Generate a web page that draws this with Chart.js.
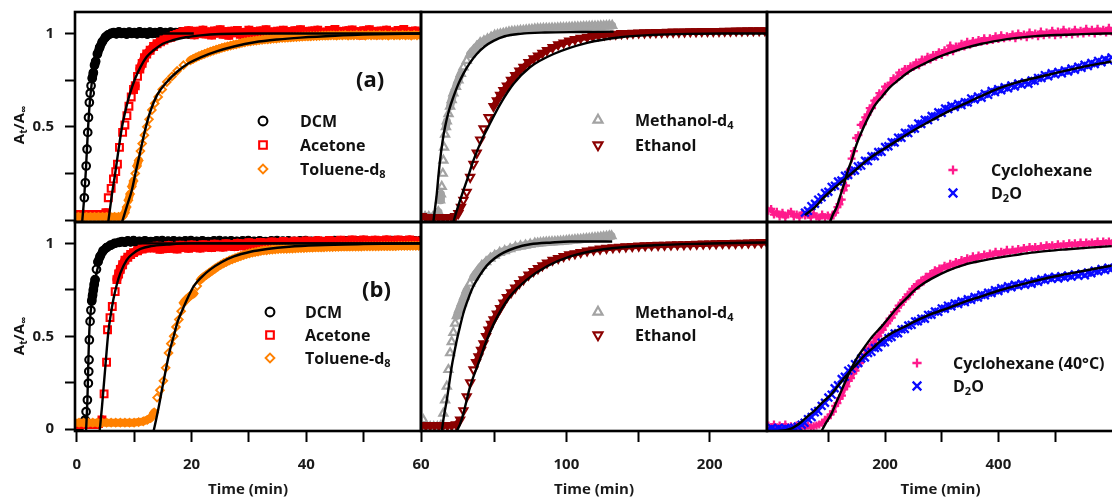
<!DOCTYPE html>
<html>
<head>
<meta charset="utf-8">
<script src="https://cdn.jsdelivr.net/npm/chart.js"></script>
<style>
  html, body { margin: 0; padding: 0; background: #fff; width: 1112px; height: 500px; overflow: hidden; }
  canvas { position: absolute; left: 0; top: 0; }
  .lbl { position: absolute; font-family: "Open Sans", "Noto Sans", sans-serif; font-weight: 700; font-size: 16px; line-height: 20px; color: #111; white-space: nowrap; transform: translateY(-50%); }
  .lbl sub { font-size: 11px; vertical-align: -3px; line-height: 0; }
  .tag { font-size: 22px; line-height: 26px; }
  .ytitle { position: absolute; font-family: "Open Sans", "Noto Sans", sans-serif; font-weight: 700; font-size: 15px; color: #111; white-space: nowrap; transform: translate(-50%, -50%) rotate(-90deg); }
  .ytitle sub { font-size: 10px; vertical-align: -3px; line-height: 0; }
</style>
</head>
<body>
<canvas id="cTL" width="1130" height="500"></canvas>
<canvas id="cBL" width="1130" height="500"></canvas>
<canvas id="cTM" width="1130" height="500"></canvas>
<canvas id="cBM" width="1130" height="500"></canvas>
<canvas id="cTR" width="1130" height="500"></canvas>
<canvas id="cBR" width="1130" height="500"></canvas>

<div class="ytitle" style="left:18px; top:125px">A<sub>t</sub>/A<sub>∞</sub></div>
<div class="ytitle" style="left:18px; top:336px">A<sub>t</sub>/A<sub>∞</sub></div>

<div class="lbl tag" style="left:356px; top:78px">(a)</div>
<div class="lbl tag" style="left:362px; top:288px">(b)</div>

<div class="lbl" style="left:300px; top:121px">DCM</div>
<div class="lbl" style="left:300px; top:145px">Acetone</div>
<div class="lbl" style="left:300px; top:169px">Toluene-d<sub>8</sub></div>
<div class="lbl" style="left:305px; top:312px">DCM</div>
<div class="lbl" style="left:305px; top:335px">Acetone</div>
<div class="lbl" style="left:305px; top:358px">Toluene-d<sub>8</sub></div>

<div class="lbl" style="left:635px; top:120px">Methanol-d<sub>4</sub></div>
<div class="lbl" style="left:635px; top:145px">Ethanol</div>
<div class="lbl" style="left:635px; top:312px">Methanol-d<sub>4</sub></div>
<div class="lbl" style="left:635px; top:335px">Ethanol</div>

<div class="lbl" style="left:991px; top:170px">Cyclohexane</div>
<div class="lbl" style="left:991px; top:193px">D<sub>2</sub>O</div>
<div class="lbl" style="left:953px; top:363px">Cyclohexane (40°C)</div>
<div class="lbl" style="left:953px; top:386px">D<sub>2</sub>O</div>

<script>
const W = 1130, H = 500;

// ---- tick positions / labels ----
const yTickVals = [0, 0.25, 0.5, 0.75, 1];
const yTextTop = ["", "", "0.5", "", "1"];
const yTextBottom = ["0", "", "0.5", "", "1"];
const xTicksL = [0, 10, 20, 30, 40, 50, 60];
const xTextL = ["0", "", "20", "", "40", "", "60"];
const xTicksM = [50, 100, 150, 200];
const xTextM = ["", "100", "", "200"];
const xTicksR = [100, 200, 300, 400, 500];
const xTextR = ["", "200", "", "400", ""];

// ---- (a) fast solvents, [time (min), At/Ainf] ----
const dcmA = [[0.2,0.02],[0.6,0.02],[1.0,0.02],[1.16,0.03],[1.33,0.12],[1.5,0.2],[1.65,0.29],[1.8,0.38],[1.92,0.47],[2.05,0.55],[2.2,0.63],[2.35,0.68],[2.5,0.72],[2.7,0.76],[2.9,0.79],[3.1,0.83],[3.3,0.85],[3.6,0.89],[4.0,0.925],[4.45,0.955],[5.0,0.98],[5.5,0.993],[6.0,1.0],[6.45,1.005],[6.9,0.998],[7.35,1.008],[7.8,1.0],[8.25,1.004],[8.7,0.997],[9.15,1.007],[9.6,1.0],[10.05,1.005],[10.5,0.998],[10.95,1.008],[11.4,1.0],[11.85,1.004],[12.3,0.997],[12.75,1.007],[13.2,1.0],[13.65,1.005],[14.1,0.998],[14.55,1.008],[15.0,1.0],[15.45,1.004],[15.9,0.997],[16.35,1.007],[16.8,1.0],[17.25,1.005],[17.7,0.998],[18.15,1.008],[18.6,1.0],[19.05,1.004],[19.5,0.997],[19.95,1.007],[20.4,1.0]];
const dcmFitA = [[0.95,-0.01],[1.3,0.12],[1.6,0.27],[1.9,0.45],[2.2,0.6],[2.6,0.73],[3.0,0.82],[3.5,0.89],[4.0,0.935],[5.0,0.975],[6.0,0.99],[8.0,1.0],[20.4,1.0]];
const acetoneA = [[-0.4,0.03],[0.4,0.03],[1.2,0.03],[2.0,0.03],[2.8,0.03],[3.6,0.03],[4.4,0.03],[5.1,0.04],[5.5,0.12],[6.0,0.17],[6.4,0.22],[6.8,0.26],[7.1,0.3],[7.45,0.39],[8.0,0.47],[8.4,0.51],[8.75,0.56],[9.1,0.61],[9.5,0.66],[9.9,0.7],[10.2,0.72],[10.6,0.77],[11.0,0.81],[11.4,0.84],[11.8,0.87],[12.2,0.89],[12.8,0.91],[13.4,0.93],[14.0,0.945],[14.6,0.955],[15.2,0.965],[15.8,0.975],[16.4,0.98],[17.0,0.99],[17.5,0.995],[18.0,1.0],[18.5,1.01],[19.0,0.998],[19.5,1.015],[20.0,1.003],[20.5,0.993],[21.0,1.012],[21.5,1.0],[22.0,1.018],[22.5,0.997],[23.0,1.008],[23.5,0.992],[24.0,1.014],[24.5,1.002],[25.0,1.02],[25.5,0.996],[26.0,1.01],[26.5,0.99],[27.0,1.012],[27.5,1.004],[28.0,1.016],[28.5,0.995],[29.0,1.006],[29.5,0.993],[30.0,1.018],[30.5,1.0],[31.0,1.01],[31.5,0.994],[32.0,1.013],[32.5,1.003],[33.0,1.02],[33.5,0.997],[34.0,1.008],[34.5,0.991],[35.0,1.012],[35.5,1.002],[36.0,1.017],[36.5,0.996],[37.0,1.009],[37.5,0.994],[38.0,1.015],[38.5,1.001],[39.0,1.02],[39.5,0.998],[40.0,1.01],[40.5,0.992],[41.0,1.013],[41.5,1.004],[42.0,1.018],[42.5,0.997],[43.0,1.007],[43.5,0.993],[44.0,1.016],[44.5,1.002],[45.0,1.021],[45.5,0.998],[46.0,1.011],[46.5,0.994],[47.0,1.014],[47.5,1.003],[48.0,1.019],[48.5,0.996],[49.0,1.009],[49.5,0.992],[50.0,1.015],[50.5,1.001],[51.0,1.02],[51.5,0.997],[52.0,1.01],[52.5,0.993],[53.0,1.013],[53.5,1.004],[54.0,1.018],[54.5,0.996],[55.0,1.008],[55.5,0.994],[56.0,1.016],[56.5,1.002],[57.0,1.021],[57.5,0.998],[58.0,1.011],[58.5,0.995],[59.0,1.014],[59.5,1.003]];
const acetoneFitA = [[5.5,-0.01],[6.1,0.13],[6.7,0.25],[7.3,0.38],[7.9,0.5],[8.6,0.6],[9.3,0.68],[10.2,0.76],[11.1,0.82],[12.2,0.875],[13.4,0.91],[15.0,0.945],[16.9,0.965],[19.0,0.98],[21.6,0.99],[25,0.997],[30,1.0],[60,1.0]];
const tolueneA = [[-0.4,0.018],[0.3,0.018],[1.0,0.018],[1.7,0.018],[2.4,0.018],[3.1,0.018],[3.8,0.018],[4.5,0.018],[5.2,0.018],[5.9,0.018],[6.6,0.018],[7.3,0.018],[8.0,0.02],[8.4,0.04],[8.7,0.07],[9.0,0.107],[9.3,0.14],[9.6,0.18],[9.9,0.21],[10.2,0.25],[10.5,0.29],[10.8,0.32],[11.1,0.37],[11.4,0.41],[11.8,0.455],[12.2,0.5],[12.6,0.54],[13.1,0.59],[13.6,0.625],[14.2,0.66],[14.9,0.7],[15.7,0.74],[16.6,0.77],[17.5,0.8],[18.6,0.83],[19.8,0.856],[20.3,0.864],[20.8,0.872],[21.3,0.879],[21.8,0.885],[22.3,0.891],[22.8,0.897],[23.3,0.903],[23.8,0.908],[24.3,0.913],[24.8,0.918],[25.3,0.923],[25.8,0.927],[26.3,0.931],[26.8,0.935],[27.3,0.939],[27.8,0.942],[28.3,0.946],[28.8,0.95],[29.3,0.953],[29.8,0.956],[30.3,0.958],[30.8,0.96],[31.3,0.962],[31.8,0.964],[32.3,0.966],[32.8,0.968],[33.3,0.969],[33.8,0.97],[34.3,0.972],[34.8,0.973],[35.3,0.975],[35.8,0.976],[36.3,0.977],[36.8,0.978],[37.3,0.979],[37.8,0.98],[38.3,0.981],[38.8,0.982],[39.3,0.983],[39.8,0.984],[40.3,0.984],[40.8,0.985],[41.3,0.986],[41.8,0.986],[42.3,0.987],[42.8,0.988],[43.3,0.988],[43.8,0.989],[44.3,0.99],[44.8,0.99],[45.3,0.988],[45.8,0.991],[46.3,0.99],[46.8,0.992],[47.3,0.989],[47.8,0.991],[48.3,0.99],[48.8,0.993],[49.3,0.99],[49.8,0.992],[50.3,0.989],[50.8,0.993],[51.3,0.99],[51.8,0.992],[52.3,0.99],[52.8,0.993],[53.3,0.99],[53.8,0.992],[54.3,0.989],[54.8,0.993],[55.3,0.99],[55.8,0.992],[56.3,0.99],[56.8,0.993],[57.3,0.99],[57.8,0.992],[58.3,0.989],[58.8,0.993],[59.3,0.99],[59.8,0.992]];
const tolueneFitA = [[7.9,-0.01],[8.8,0.08],[9.6,0.16],[10.3,0.26],[11.1,0.37],[11.9,0.48],[12.8,0.58],[14.0,0.67],[15.7,0.74],[17.5,0.795],[19.5,0.84],[21.6,0.872],[24.5,0.905],[27.4,0.93],[31,0.953],[35,0.968],[39,0.978],[45,0.988],[52,0.995],[60,1.0]];

// ---- (b) ----
const dcmB = [[-0.4,0.02],[0.2,0.02],[0.8,0.02],[1.2,0.03],[1.46,0.05],[1.63,0.094],[1.86,0.157],[2.03,0.247],[2.1,0.31],[2.15,0.373],[2.2,0.48],[2.33,0.58],[2.47,0.64],[2.62,0.69],[2.76,0.72],[2.9,0.75],[3.05,0.78],[3.2,0.805],[3.44,0.86],[3.7,0.9],[4.07,0.93],[4.6,0.96],[5.2,0.977],[5.9,0.99],[6.6,1.0],[7.4,1.005],[7.9,1.01],[8.4,1.006],[8.9,1.013],[9.4,1.008],[9.9,1.015],[10.4,1.005],[10.9,1.011],[11.4,1.008],[11.9,1.014],[12.4,1.006],[12.9,1.01],[13.4,1.007],[13.9,1.013],[14.4,1.009],[14.9,1.015],[15.4,1.005],[15.9,1.012],[16.4,1.008],[16.9,1.014],[17.4,1.006],[17.9,1.011],[18.4,1.007],[18.9,1.013],[19.4,1.009],[19.9,1.015],[20.4,1.005],[20.9,1.011],[21.4,1.008],[21.9,1.014],[22.4,1.006],[22.9,1.01],[23.4,1.007],[23.9,1.013],[24.4,1.009],[24.9,1.015],[25.4,1.005],[25.9,1.012],[26.4,1.008],[26.9,1.014],[27.4,1.006],[27.9,1.011],[28.4,1.007],[28.9,1.013],[29.4,1.009],[29.9,1.015],[30.4,1.005],[30.9,1.011],[31.4,1.008],[31.9,1.014],[32.4,1.006],[32.9,1.01],[33.4,1.007],[33.9,1.013],[34.4,1.009],[34.9,1.015],[35.4,1.005],[35.9,1.012],[36.4,1.008],[36.9,1.014],[37.4,1.006],[37.9,1.011],[38.4,1.007],[38.9,1.013],[39.4,1.009],[39.9,1.015],[40.4,1.005],[40.9,1.011],[41.4,1.008],[41.9,1.014],[42.4,1.006],[42.9,1.01],[43.4,1.007],[43.9,1.013],[44.4,1.009],[44.9,1.015],[45.4,1.005],[45.9,1.012],[46.4,1.008],[46.9,1.014],[47.4,1.006],[47.9,1.011],[48.4,1.007],[48.9,1.013],[49.4,1.009],[49.9,1.015],[50.4,1.005],[50.9,1.011],[51.4,1.008],[51.9,1.014],[52.4,1.006],[52.9,1.01],[53.4,1.007],[53.9,1.013],[54.4,1.009],[54.9,1.015],[55.4,1.005],[55.9,1.012],[56.4,1.008],[56.9,1.014],[57.4,1.006],[57.9,1.011],[58.4,1.007],[58.9,1.013],[59.4,1.009],[59.9,1.015]];
const dcmFitB = [[1.62,-0.01],[1.75,0.07],[1.86,0.157],[1.95,0.26],[2.03,0.37],[2.12,0.46],[2.2,0.53],[2.4,0.62],[2.6,0.68],[2.9,0.75],[3.2,0.8],[3.6,0.86],[4.07,0.91],[4.6,0.94],[5.2,0.96],[6.2,0.98],[7.6,0.99],[10,1.0],[60,1.0]];
const acetoneB = [[-0.4,0.025],[0.3,0.025],[1.0,0.025],[1.7,0.025],[2.4,0.025],[3.1,0.025],[3.8,0.03],[4.4,0.05],[4.77,0.19],[5.2,0.36],[5.37,0.535],[5.8,0.6],[6.2,0.66],[6.7,0.74],[7.0,0.805],[7.3,0.835],[7.6,0.86],[8.0,0.885],[8.4,0.91],[8.9,0.925],[9.4,0.94],[9.9,0.95],[10.6,0.96],[11.4,0.97],[12.2,0.975],[13.0,0.98],[13.5,0.975],[14.0,0.985],[14.5,0.968],[15.0,0.982],[15.5,0.972],[16.0,0.988],[16.5,0.974],[17.0,0.984],[17.5,0.97],[18.0,0.99],[18.5,0.977],[19.0,0.986],[19.5,0.973],[20.0,0.991],[20.5,0.979],[21.0,0.987],[21.5,0.975],[22.0,0.993],[22.5,0.98],[23.0,0.99],[23.5,0.978],[24.0,0.995],[24.5,0.982],[25.0,0.992],[25.5,0.98],[26.0,0.998],[26.5,0.985],[27.0,0.994],[27.5,0.983],[28.0,1.0],[28.5,0.987],[29.0,0.997],[29.5,0.985],[30.0,1.003],[30.5,0.99],[31.0,1.0],[31.5,0.988],[32.0,1.005],[32.5,0.992],[33.0,1.002],[33.5,0.99],[34.0,1.008],[34.5,0.994],[35.0,1.004],[35.5,0.992],[36.0,1.01],[36.5,0.996],[37.0,1.006],[37.5,0.994],[38.0,1.012],[38.5,0.998],[39.0,1.008],[39.5,0.996],[40.0,1.013],[40.5,0.999],[41.0,1.009],[41.5,0.997],[42.0,1.015],[42.5,1.0],[43.0,1.01],[43.5,0.998],[44.0,1.016],[44.5,1.002],[45.0,1.011],[45.5,0.999],[46.0,1.017],[46.5,1.003],[47.0,1.012],[47.5,1.0],[48.0,1.018],[48.5,1.004],[49.0,1.013],[49.5,1.001],[50.0,1.018],[50.5,1.004],[51.0,1.013],[51.5,1.0],[52.0,1.017],[52.5,1.005],[53.0,1.014],[53.5,1.001],[54.0,1.019],[54.5,1.004],[55.0,1.013],[55.5,1.0],[56.0,1.018],[56.5,1.005],[57.0,1.014],[57.5,1.001],[58.0,1.019],[58.5,1.004],[59.0,1.013],[59.5,1.002]];
const acetoneFitB = [[4.0,-0.01],[4.4,0.12],[4.7,0.23],[5.0,0.34],[5.5,0.52],[5.9,0.61],[6.4,0.7],[7.0,0.78],[7.6,0.84],[8.7,0.91],[9.8,0.945],[11.1,0.97],[13,0.985],[15.7,0.993],[20,1.0],[60,1.0]];
const tolueneB = [[-0.4,0.035],[0.4,0.035],[1.2,0.035],[2.0,0.035],[2.8,0.035],[3.6,0.035],[4.4,0.035],[5.2,0.035],[6.0,0.035],[6.8,0.035],[7.6,0.035],[8.4,0.035],[9.2,0.035],[10.0,0.035],[10.8,0.038],[11.6,0.042],[12.3,0.05],[12.9,0.06],[13.5,0.09],[14.0,0.17],[14.5,0.21],[15.1,0.26],[15.5,0.33],[16.0,0.41],[16.4,0.46],[16.9,0.5],[17.3,0.55],[17.8,0.59],[18.2,0.635],[18.6,0.68],[19.0,0.695],[19.5,0.71],[19.9,0.72],[20.4,0.73],[21.0,0.77],[21.6,0.805],[22.1,0.82],[22.6,0.83],[23.1,0.842],[23.6,0.853],[24.1,0.864],[24.6,0.875],[25.1,0.884],[25.6,0.893],[26.1,0.9],[26.6,0.908],[27.1,0.914],[27.6,0.92],[28.1,0.926],[28.6,0.932],[29.1,0.937],[29.6,0.942],[30.1,0.946],[30.6,0.95],[31.1,0.953],[31.6,0.956],[32.1,0.959],[32.6,0.962],[33.1,0.963],[33.6,0.965],[34.1,0.967],[34.6,0.968],[35.1,0.969],[35.6,0.97],[36.1,0.971],[36.6,0.971],[37.1,0.972],[37.6,0.972],[38.1,0.973],[38.6,0.974],[39.1,0.975],[39.6,0.975],[40.1,0.976],[40.6,0.977],[41.1,0.977],[41.6,0.978],[42.1,0.978],[42.6,0.978],[43.1,0.979],[43.6,0.98],[44.1,0.98],[44.6,0.98],[45.1,0.981],[45.6,0.981],[46.1,0.982],[46.6,0.982],[47.1,0.982],[47.6,0.982],[48.1,0.983],[48.6,0.983],[49.1,0.983],[49.6,0.983],[50.1,0.984],[50.6,0.984],[51.1,0.984],[51.6,0.984],[52.1,0.984],[52.6,0.984],[53.1,0.985],[53.6,0.985],[54.1,0.985],[54.6,0.985],[55.1,0.985],[55.6,0.985],[56.1,0.986],[56.6,0.986],[57.1,0.986],[57.6,0.986],[58.1,0.987],[58.6,0.987],[59.1,0.987],[59.6,0.987]];
const tolueneFitB = [[13.4,-0.01],[13.9,0.06],[14.3,0.12],[14.9,0.22],[15.4,0.3],[16.2,0.42],[16.9,0.5],[17.6,0.58],[18.4,0.64],[19.4,0.71],[20.4,0.77],[21.8,0.82],[23.3,0.86],[25.3,0.9],[27.4,0.93],[30.3,0.955],[33.2,0.97],[37,0.982],[41.9,0.99],[50,0.996],[60,1.0]];

// ---- alcohols ----
const methanolA = [[1.4,0.018],[4,0.018],[7,0.018],[9.5,0.025],[10.7,0.044],[11.9,0.107],[12.5,0.14],[13.1,0.18],[13.8,0.25],[14.2,0.32],[14.7,0.39],[15.4,0.46],[16.0,0.5],[16.6,0.53],[17.8,0.57],[18.9,0.61],[20.0,0.645],[21.2,0.68],[23.0,0.715],[24.7,0.75],[26.4,0.785],[28.2,0.82],[30.5,0.855],[32.9,0.89],[35.2,0.91],[37.5,0.93],[39.9,0.95],[42.5,0.96],[45,0.97],[47.5,0.98],[50,0.99],[52,0.993],[54,0.997],[56,1.0],[58,1.003],[60,1.007],[62,1.01],[64,1.011],[66,1.013],[68,1.015],[70,1.016],[72,1.018],[74,1.02],[76,1.021],[78,1.023],[80,1.025],[82,1.025],[84,1.026],[86,1.027],[88,1.027],[90,1.028],[92,1.028],[94,1.029],[96,1.03],[98,1.03],[100,1.031],[102,1.032],[104,1.033],[106,1.034],[108,1.034],[110,1.035],[112,1.036],[114,1.036],[116,1.037],[118,1.038],[120,1.038],[122,1.039],[124,1.04],[126,1.04],[128,1.041],[130,1.042],[132,1.042]];
const methanolFitA = [[7.2,-0.01],[8.5,0.07],[9.6,0.14],[10.8,0.24],[11.9,0.32],[13.6,0.42],[15.4,0.5],[18.2,0.59],[21.2,0.66],[24.7,0.73],[28.2,0.785],[32.5,0.84],[37.5,0.89],[43,0.93],[49.2,0.96],[57,0.985],[67.8,0.998],[85,1.005],[110,1.008],[133,1.01]];
const ethanolA = [[-1,0.02],[2,0.015],[5,0.015],[8,0.015],[11,0.015],[14,0.015],[17,0.015],[20,0.015],[22.5,0.02],[24.7,0.036],[26.5,0.07],[28.2,0.107],[30.5,0.15],[32.9,0.23],[35.2,0.3],[37.5,0.36],[39.9,0.43],[42.2,0.49],[45.7,0.55],[49.2,0.61],[51.5,0.64],[53.8,0.67],[56.1,0.695],[58.5,0.72],[61.4,0.75],[64.3,0.775],[67.2,0.8],[70.1,0.82],[73.6,0.845],[77.1,0.865],[80.2,0.88],[83.3,0.895],[86.5,0.91],[90.4,0.925],[94.3,0.94],[98.1,0.95],[102,0.96],[106,0.968],[110,0.975],[114.5,0.98],[118.5,0.985],[122.5,0.99],[126.5,0.993],[130.5,0.995],[134.5,0.997],[138.5,1.0],[142.5,1.0],[146.5,1.002],[150.5,1.003],[154.5,1.004],[158.5,1.005],[162.5,1.006],[166.5,1.006],[170.5,1.007],[174.5,1.008],[178.5,1.008],[182.5,1.009],[186.5,1.01],[190.5,1.01],[194.5,1.011],[198.5,1.011],[202.5,1.012],[206.5,1.012],[210.5,1.013],[214.5,1.013],[218.5,1.014],[222.5,1.014],[226.5,1.015],[230.5,1.015],[234.5,1.016],[238.5,1.016]];
const ethanolFitA = [[21.2,-0.01],[23.5,0.05],[25.9,0.107],[28.2,0.16],[30.5,0.21],[35.2,0.32],[41.0,0.43],[46.9,0.52],[53.8,0.62],[63.2,0.73],[74.8,0.82],[91.1,0.89],[114.5,0.95],[137.8,0.98],[160,0.992],[184,0.998],[210,1.0],[240,1.0]];
const methanolB = [[0.2,0.05],[2.5,0.012],[5,0.012],[7.5,0.012],[10,0.012],[12.5,0.02],[14.2,0.085],[15.4,0.157],[16.6,0.23],[17.7,0.32],[18.9,0.41],[20.0,0.47],[21.2,0.52],[22.4,0.57],[23.6,0.61],[25.3,0.645],[27.1,0.68],[28.8,0.715],[30.5,0.75],[32.8,0.785],[35.2,0.82],[38.1,0.85],[41,0.88],[44,0.9],[47,0.92],[50,0.935],[53.5,0.95],[57,0.96],[60.8,0.97],[64.5,0.98],[68,0.985],[71.5,0.99],[74.8,0.995],[78,1.0],[80,1.001],[82,1.003],[84,1.005],[86,1.006],[88,1.007],[90,1.008],[92,1.009],[94,1.01],[96,1.011],[98,1.012],[100,1.014],[102,1.016],[104,1.017],[106,1.019],[108,1.02],[110,1.021],[112,1.023],[114,1.025],[116,1.026],[118,1.028],[120,1.03],[122,1.031],[124,1.033],[126,1.035],[128,1.037],[130,1.039],[131.5,1.04]];
const methanolFitB = [[13.1,-0.01],[14.8,0.08],[16.6,0.157],[18.4,0.25],[20.1,0.34],[21.8,0.41],[23.6,0.48],[25.9,0.555],[28.2,0.625],[31.5,0.7],[35.2,0.77],[39.8,0.83],[44.5,0.88],[50,0.92],[56.2,0.95],[64,0.975],[74.8,0.995],[90,1.005],[102.8,1.01],[132,1.01]];
const ethanolB = [[-1,0.02],[2,0.02],[5,0.02],[8,0.02],[11,0.02],[14,0.02],[17,0.02],[20,0.02],[23,0.025],[25.9,0.05],[28.2,0.1],[30.5,0.175],[32.9,0.25],[35.2,0.32],[37,0.36],[38.7,0.39],[40.5,0.425],[42.2,0.46],[44,0.5],[45.7,0.535],[47.5,0.565],[49.2,0.59],[51.5,0.62],[53.8,0.65],[56.1,0.68],[58.5,0.71],[61.4,0.735],[64.3,0.76],[67.2,0.785],[70.1,0.805],[73.6,0.83],[77.1,0.85],[80.2,0.865],[83.3,0.88],[86.5,0.895],[90.4,0.91],[94.3,0.92],[98.1,0.93],[102,0.94],[106,0.945],[110,0.952],[114.5,0.96],[119,0.965],[123.5,0.97],[128,0.974],[132.5,0.977],[137,0.98],[141.5,0.982],[146,0.984],[150.5,0.986],[155,0.988],[159.5,0.989],[164,0.99],[168.5,0.991],[173,0.992],[177.5,0.993],[182,0.994],[186.5,0.995],[191,0.996],[195.5,0.997],[200,0.998],[204.5,0.999],[209,1.0],[213.5,1.0],[218,1.001],[222.5,1.002],[227,1.003],[231.5,1.004],[236,1.005],[240,1.005]];
const ethanolFitB = [[23.6,-0.01],[26,0.03],[28.2,0.085],[32.9,0.23],[38.7,0.355],[44.5,0.48],[51.5,0.6],[60.8,0.715],[72.5,0.805],[86.5,0.877],[102.8,0.93],[126,0.968],[161,0.99],[200,0.999],[240,1.005]];

// ---- slow solvents ----
const cyclohexA = [[-6,0.05],[-1,0.06],[4,0.03],[9,0.045],[14,0.02],[19,0.04],[24,0.015],[29,0.035],[34,0.045],[39,0.02],[44,0.03],[49,0.015],[54,0.04],[59,0.025],[64,0.03],[69,0.015],[74,0.035],[79,0.02],[84,0.01],[89,0.03],[94,0.015],[99,0.025],[104,0.01],[108,0.03],[112,0.04],[116,0.07],[119.5,0.085],[123.5,0.11],[127,0.16],[131,0.185],[135,0.24],[138,0.27],[141,0.33],[145,0.37],[149,0.44],[153,0.455],[157,0.51],[161,0.515],[165,0.55],[169,0.565],[173,0.6],[177,0.6],[181,0.64],[185,0.645],[190,0.68],[195,0.675],[200,0.715],[205,0.72],[210,0.735],[215,0.76],[220,0.755],[225,0.79],[230,0.78],[235,0.81],[240,0.8],[245,0.825],[250,0.82],[255,0.845],[260,0.83],[265,0.86],[270,0.85],[275,0.875],[280,0.86],[285,0.885],[290,0.875],[295,0.9],[300,0.885],[305,0.91],[310,0.9],[315,0.935],[320,0.905],[325,0.93],[330,0.925],[335,0.945],[340,0.93],[345,0.955],[350,0.94],[355,0.96],[360,0.95],[365,0.965],[370,0.955],[375,0.975],[380,0.96],[385,0.975],[390,0.965],[395,0.985],[400,0.97],[405,0.99],[410,0.975],[415,0.985],[420,0.98],[425,0.995],[430,0.975],[435,1.0],[440,0.985],[445,0.995],[450,0.98],[455,1.005],[460,0.99],[465,1.0],[470,0.985],[475,1.01],[480,0.99],[485,1.005],[490,0.995],[495,1.015],[500,0.99],[505,1.01],[510,0.995],[515,1.02],[520,1.0],[525,1.01],[530,0.995],[535,1.02],[540,1.0],[545,1.015],[550,1.0],[555,1.025],[560,1.005],[565,1.02],[570,1.0],[575,1.025],[580,1.01],[585,1.02],[590,1.005],[595,1.03],[600,1.01]];
const cyclohexFitA = [[102.8,-0.01],[108,0.03],[114.6,0.07],[122,0.14],[129.3,0.21],[135,0.27],[141,0.32],[146.8,0.38],[152.7,0.43],[161,0.49],[170.4,0.55],[181,0.61],[194,0.66],[208,0.71],[223.3,0.75],[245,0.8],[270.4,0.84],[295,0.875],[317.5,0.9],[345,0.925],[370.4,0.945],[400,0.962],[429,0.975],[470,0.987],[517.3,0.993],[560,0.998],[604,1.0]];
const d2oA = [[58.7,0.04],[64,0.05],[70,0.075],[76.4,0.088],[82,0.11],[88,0.122],[94,0.145],[100,0.152],[105.8,0.178],[111.6,0.184],[117,0.207],[123,0.212],[129.3,0.238],[135,0.242],[141,0.262],[146.9,0.266],[152,0.288],[158,0.292],[164.6,0.318],[170,0.316],[176,0.342],[182,0.342],[188,0.365],[194,0.366],[200,0.392],[206,0.396],[211.6,0.418],[217,0.416],[223,0.442],[229,0.441],[235.1,0.468],[241,0.466],[247,0.488],[252.7,0.49],[258.6,0.518],[264,0.515],[270,0.538],[276,0.536],[282.2,0.558],[288,0.555],[294,0.578],[300,0.575],[306,0.598],[311.5,0.595],[317,0.612],[323,0.606],[329,0.622],[335,0.616],[340.9,0.632],[346,0.63],[352,0.652],[358,0.646],[364,0.662],[370.4,0.656],[376,0.677],[382,0.671],[388,0.692],[394,0.686],[399.6,0.702],[405,0.696],[411,0.712],[417,0.706],[423,0.722],[429,0.716],[435,0.732],[441,0.726],[447,0.738],[453,0.731],[458.6,0.748],[464,0.746],[470,0.762],[476,0.761],[482,0.777],[487.9,0.771],[494,0.787],[500,0.781],[506,0.794],[512,0.786],[517.3,0.802],[523,0.796],[529,0.812],[535,0.806],[541,0.822],[546.7,0.816],[552,0.832],[558,0.826],[564,0.842],[570,0.836],[576,0.853],[582,0.846],[588,0.862],[594,0.856],[599.6,0.872]];
const d2oFitA = [[58.7,0.027],[76.4,0.07],[90,0.115],[105.8,0.16],[123,0.205],[141,0.25],[158,0.295],[176.4,0.34],[200,0.385],[223.3,0.43],[250,0.48],[282.2,0.535],[310,0.58],[340.9,0.624],[370,0.665],[399.6,0.704],[430,0.735],[458.6,0.758],[490,0.78],[517.3,0.8],[560,0.828],[599.6,0.85]];
const cyclohexB = [[-6,0.02],[-1,0.01],[4,0.025],[9,0.005],[14,0.02],[19,0.01],[24,0.025],[29,0.005],[34,0.015],[39,0.01],[44,0.02],[49,0.005],[54,0.018],[59,0.008],[64,0.02],[69,0.01],[74,0.015],[79,0.02],[84,0.025],[89,0.035],[94,0.05],[99,0.06],[104,0.08],[108,0.095],[112,0.125],[116,0.14],[120,0.165],[124,0.18],[128,0.215],[132,0.23],[136,0.26],[140,0.275],[144,0.3],[148,0.315],[152,0.345],[156,0.355],[160,0.385],[164,0.395],[168,0.425],[172,0.43],[176,0.455],[180,0.465],[184,0.49],[188,0.5],[192,0.525],[196,0.535],[200,0.56],[204,0.57],[208,0.595],[212,0.6],[216,0.63],[220,0.635],[224,0.665],[228,0.67],[232,0.695],[236,0.7],[240,0.725],[244,0.725],[248,0.755],[252,0.755],[256,0.78],[260,0.775],[264,0.8],[268,0.795],[272,0.82],[276,0.815],[280,0.835],[284,0.83],[288,0.855],[292,0.845],[296,0.865],[300,0.86],[305,0.88],[310,0.87],[315,0.89],[320,0.88],[325,0.9],[330,0.89],[335,0.91],[340,0.9],[345,0.92],[350,0.91],[355,0.93],[360,0.915],[365,0.935],[370,0.925],[375,0.94],[380,0.93],[385,0.945],[390,0.935],[395,0.955],[400,0.94],[405,0.955],[410,0.945],[415,0.965],[420,0.95],[425,0.965],[430,0.955],[435,0.97],[440,0.96],[445,0.975],[450,0.965],[455,0.98],[460,0.97],[465,0.98],[470,0.97],[475,0.985],[480,0.975],[485,0.99],[490,0.98],[495,0.99],[500,0.98],[505,0.995],[510,0.985],[515,0.995],[520,0.985],[525,1.0],[530,0.99],[535,1.0],[540,0.99],[545,1.005],[550,0.99],[555,1.005],[560,0.995],[565,1.005],[570,0.995],[575,1.01],[580,0.995],[585,1.01],[590,1.0],[595,1.01],[600,1.0]];
const cyclohexFitB = [[88,-0.01],[95,0.03],[105.8,0.085],[114,0.145],[123.5,0.21],[132,0.27],[141,0.33],[152,0.39],[164.6,0.445],[178,0.5],[194,0.553],[208,0.605],[223.3,0.66],[238,0.705],[252.7,0.75],[267,0.782],[282.2,0.81],[310,0.852],[340.9,0.886],[370,0.906],[399.6,0.923],[430,0.937],[458.6,0.95],[490,0.96],[517.3,0.967],[560,0.977],[600,0.985]];
const d2oB = [[-6,0.0],[0,0.006],[6,-0.002],[12,0.006],[18,0.0],[24,0.006],[30,0.0],[35,0.004],[40,0.008],[46,0.014],[52.9,0.024],[58,0.034],[64,0.054],[70.5,0.065],[76,0.09],[82,0.098],[88.2,0.125],[94,0.142],[100,0.17],[105.8,0.186],[111,0.22],[117,0.236],[123.5,0.27],[129,0.282],[135,0.315],[141,0.326],[147,0.35],[153,0.356],[158,0.38],[164.6,0.386],[170,0.41],[176,0.416],[182,0.437],[188,0.441],[194,0.465],[200,0.468],[206,0.49],[211.6,0.496],[217,0.515],[223,0.516],[229,0.537],[235,0.539],[241,0.558],[247,0.561],[253,0.58],[258,0.581],[264,0.595],[270.4,0.594],[276,0.615],[282,0.616],[288,0.633],[294,0.631],[300,0.65],[305.6,0.648],[311,0.665],[317,0.661],[323,0.677],[329,0.674],[335,0.688],[340.9,0.684],[346,0.699],[352,0.696],[358,0.711],[364,0.708],[370,0.723],[376.2,0.72],[382,0.735],[388,0.733],[394,0.748],[400,0.744],[405,0.759],[411.5,0.756],[417,0.769],[423,0.764],[429,0.777],[435,0.772],[441,0.783],[447,0.777],[453,0.789],[458.6,0.783],[464,0.797],[470,0.793],[476,0.807],[482,0.802],[488,0.815],[494,0.809],[500,0.82],[505.5,0.811],[511,0.823],[517,0.816],[523,0.827],[529,0.821],[535,0.833],[541,0.826],[547,0.837],[552.6,0.828],[558,0.843],[564,0.839],[570,0.853],[576,0.849],[582,0.862],[588,0.856],[594,0.869],[600,0.864]];
const d2oFitB = [[11.6,-0.01],[25,-0.005],[35.3,0.004],[44,0.02],[52.9,0.04],[64,0.07],[76.4,0.103],[90,0.145],[105.8,0.19],[120,0.245],[135.1,0.3],[150,0.35],[164.6,0.4],[180,0.44],[194,0.48],[208,0.51],[223.3,0.535],[240,0.56],[252.7,0.58],[280,0.618],[311.5,0.652],[340,0.685],[370.4,0.715],[400,0.745],[429,0.77],[458,0.793],[487.9,0.815],[517,0.833],[546.7,0.85],[575,0.866],[600,0.88]];

// marker looks; "band" = width of the solid strip that appears where markers crowd together
const marks = {
  dcm: { pointStyle: "circle", pointRadius: 3.8, pointBorderWidth: 2.1, pointBorderColor: "#000", pointBackgroundColor: "rgba(0,0,0,0)", band: 9, gap: 7 },
  acetone: { pointStyle: "rect", pointRadius: 4.8, pointBorderWidth: 2.1, pointBorderColor: "#ff0000", pointBackgroundColor: "rgba(0,0,0,0)", band: 9, gap: 7 },
  toluene: { pointStyle: "rectRot", pointRadius: 3.8, pointBorderWidth: 1.9, pointBorderColor: "#ff8000", pointBackgroundColor: "rgba(0,0,0,0)", band: 8, gap: 7 },
  methanol: { pointStyle: "triangle", pointRadius: 4.6, pointBorderWidth: 2.2, pointBorderColor: "#a3a3a3", pointBackgroundColor: "rgba(0,0,0,0)", band: 8, gap: 7 },
  ethanol: { pointStyle: "triangle", pointRotation: 180, pointRadius: 4.6, pointBorderWidth: 2.1, pointBorderColor: "#8b0000", pointBackgroundColor: "rgba(0,0,0,0)", band: 6, gap: 7 },
  cyclohex: { pointStyle: "cross", pointRadius: 4, pointBorderWidth: 2.3, pointBorderColor: "#ff1a8c", pointBackgroundColor: "rgba(0,0,0,0)", band: 4, gap: 8 },
  d2o: { pointStyle: "crossRot", pointRadius: 5.5, pointBorderWidth: 2.3, pointBorderColor: "#0a0aff", pointBackgroundColor: "rgba(0,0,0,0)", band: 0, gap: 0 },
};

const pts = (arr) => arr.map(([x, y]) => ({ x, y }));
const series = (arr, look, order) => {
  const m = marks[look];
  return Object.assign({
    data: pts(arr), order, showLine: m.band > 0, borderWidth: m.band, tension: 0,
    borderCapStyle: "round", borderJoinStyle: "round",
    segment: { borderColor: (c) => (Math.hypot(c.p1.x - c.p0.x, c.p1.y - c.p0.y) < m.gap ? m.pointBorderColor : "rgba(0,0,0,0)") },
  }, m);
};
const fit = (arr) => ({ data: pts(arr), showLine: true, borderColor: "#000", borderWidth: 2.4, pointRadius: 0, cubicInterpolationMode: "monotone", order: 0 });

const frame = {
  id: "frame",
  afterDatasetsDraw(chart) {
    const a = chart.chartArea, c = chart.ctx;
    c.save();
    c.lineWidth = 2.6;
    c.strokeStyle = "#000";
    c.strokeRect(a.left, a.top, a.right - a.left, a.bottom - a.top);
    c.restore();
  },
};

// legend symbols, drawn with the dataset's own point style
const keyMarks = {
  id: "keyMarks",
  afterDraw(chart, args, opts) {
    const c = chart.ctx;
    (opts.items || []).forEach(([i, x, y]) => {
      const ds = chart.data.datasets[i];
      c.save();
      c.strokeStyle = ds.pointBorderColor;
      c.fillStyle = ds.pointBackgroundColor;
      c.lineWidth = ds.pointBorderWidth;
      Chart.helpers.drawPoint(c, { pointStyle: ds.pointStyle, radius: ds.pointRadius + 0.6, rotation: ds.pointRotation || 0, borderWidth: ds.pointBorderWidth }, x, y);
      c.restore();
    });
  },
};

const tickFont = { family: "'Open Sans', 'Noto Sans', sans-serif", weight: "bold", size: 15 };

function panel(id, box, xr, xt, yText, datasets, items, showX, showY) {
  new Chart(document.getElementById(id), {
    type: "scatter",
    data: { datasets },
    options: {
      responsive: false,
      animation: false,
      events: [],
      layout: { autoPadding: false, padding: { left: box[0] - (showY ? 60 : 0), top: box[1], right: W - box[2], bottom: H - box[3] - (showX ? 69 : 0) } },
      plugins: { legend: { display: false }, tooltip: { enabled: false }, keyMarks: { items } },
      scales: {
        x: {
          type: "linear", min: xr[0], max: xr[1], display: showX,
          afterFit: (s) => { if (showX) s.height = 69; s.paddingLeft = 0; s.paddingRight = 0; },
          afterBuildTicks: (s) => { s.ticks = xt[0].map((v) => ({ value: v })); },
          ticks: { callback: (v, i) => xt[1][i], font: tickFont, color: "#1a1a1a", padding: 14, maxRotation: 0, autoSkip: false },
          grid: { drawOnChartArea: false, drawTicks: true, tickLength: 11, tickWidth: 2, tickColor: "#000" },
          border: { display: false },
          title: { display: true, text: "Time (min)", font: tickFont, color: "#1a1a1a", padding: { top: 0, bottom: 1 } },
        },
        y: {
          type: "linear", min: -0.01, max: 1.115, display: showY,
          afterFit: (s) => { if (showY) s.width = 60; s.paddingTop = 0; s.paddingBottom = 0; },
          afterBuildTicks: (s) => { s.ticks = yTickVals.map((v) => ({ value: v })); },
          ticks: { callback: (v, i) => yText[i], font: tickFont, color: "#1a1a1a", padding: 11, autoSkip: false },
          grid: { drawOnChartArea: false, drawTicks: true, tickLength: 10, tickWidth: 2, tickColor: "#000" },
          border: { display: false },
        },
      },
    },
    plugins: [frame, keyMarks],
  });
}

const colL = [-0.3, 60], colM = [-1.4, 240], colR = [-8.3, 604];
const topRow = [12, 222], botRow = [222, 431];

panel("cTL", [75, topRow[0], 421, topRow[1]], colL, [xTicksL, xTextL], yTextTop,
  [series(dcmA, "dcm", 3), series(acetoneA, "acetone", 2), series(tolueneA, "toluene", 1), fit(dcmFitA), fit(acetoneFitA), fit(tolueneFitA)],
  [[0, 263, 121], [1, 263, 145], [2, 263, 169]], false, true);
panel("cBL", [75, botRow[0], 421, botRow[1]], colL, [xTicksL, xTextL], yTextBottom,
  [series(dcmB, "dcm", 3), series(acetoneB, "acetone", 2), series(tolueneB, "toluene", 1), fit(dcmFitB), fit(acetoneFitB), fit(tolueneFitB)],
  [[0, 270, 312], [1, 270, 335], [2, 270, 358]], true, true);
panel("cTM", [421, topRow[0], 767, topRow[1]], colM, [xTicksM, xTextM], yTextTop,
  [series(methanolA, "methanol", 2), series(ethanolA, "ethanol", 1), fit(methanolFitA), fit(ethanolFitA)],
  [[0, 598, 120], [1, 598, 145]], false, false);
panel("cBM", [421, botRow[0], 767, botRow[1]], colM, [xTicksM, xTextM], yTextBottom,
  [series(methanolB, "methanol", 2), series(ethanolB, "ethanol", 1), fit(methanolFitB), fit(ethanolFitB)],
  [[0, 598, 312], [1, 598, 335]], true, false);
panel("cTR", [767, topRow[0], 1114, topRow[1]], colR, [xTicksR, xTextR], yTextTop,
  [series(cyclohexA, "cyclohex", 2), series(d2oA, "d2o", 1), fit(cyclohexFitA), fit(d2oFitA)],
  [[0, 953, 170], [1, 953, 193]], false, false);
panel("cBR", [767, botRow[0], 1114, botRow[1]], colR, [xTicksR, xTextR], yTextBottom,
  [series(cyclohexB, "cyclohex", 2), series(d2oB, "d2o", 1), fit(cyclohexFitB), fit(d2oFitB)],
  [[0, 917, 363], [1, 917, 386]], true, false);
</script>
</body>
</html>
